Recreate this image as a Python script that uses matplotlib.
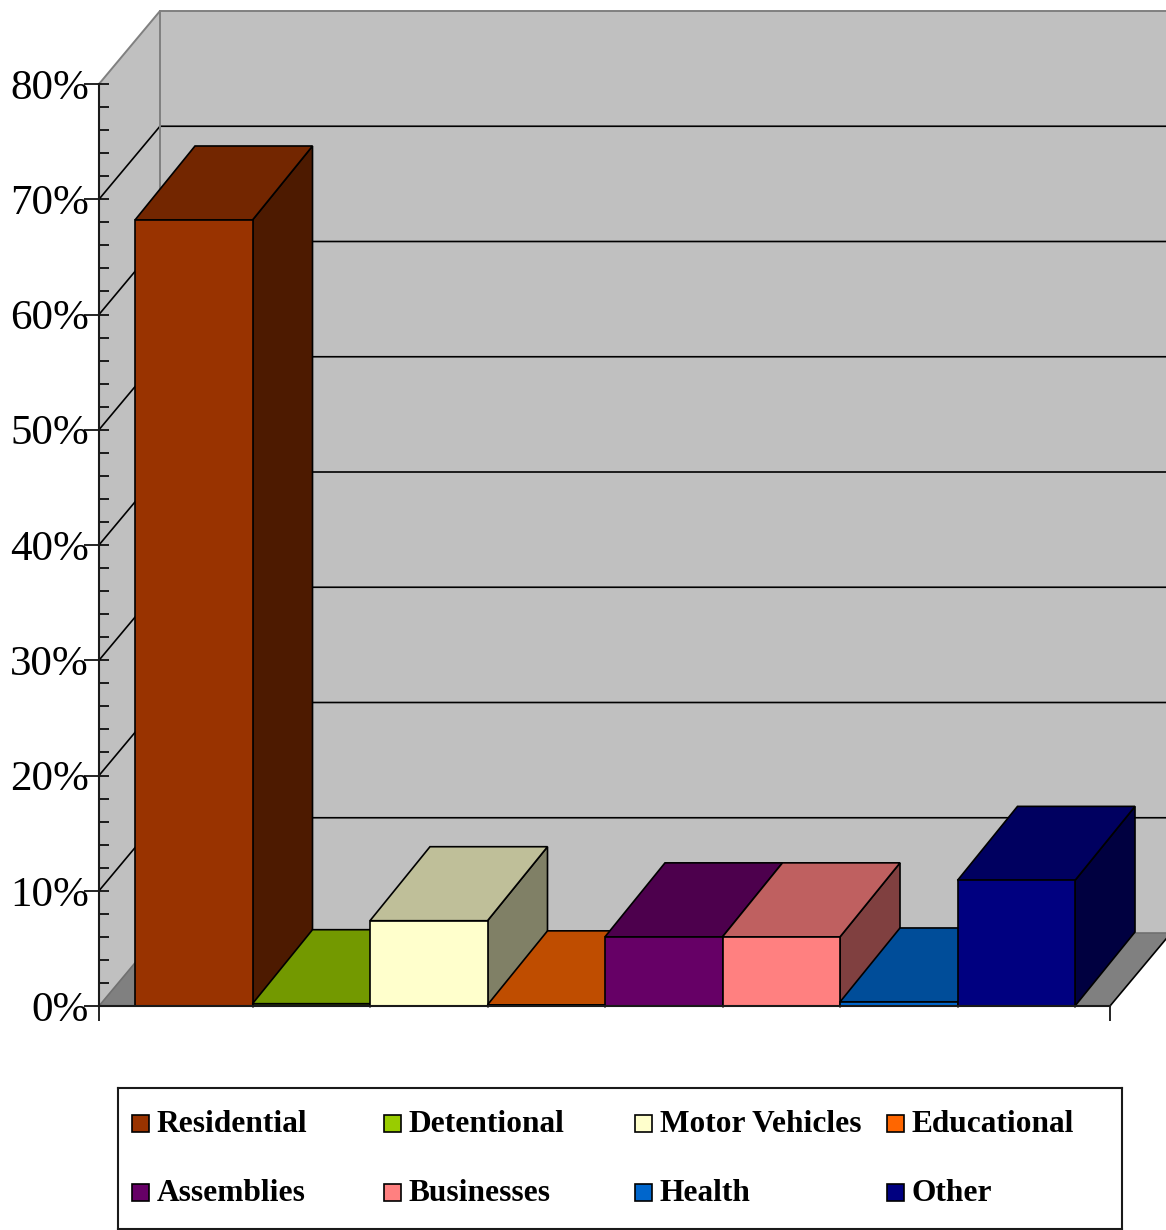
import matplotlib
matplotlib.use('Agg')
import matplotlib.pyplot as plt
from matplotlib.patches import Rectangle
from matplotlib.ticker import MultipleLocator, FixedLocator, NullFormatter, FuncFormatter

categories = ['Residential', 'Detentional', 'Motor Vehicles', 'Educational',
              'Assemblies', 'Businesses', 'Health', 'Other']
values = [68.2, 0.2, 7.4, 0.1, 6.0, 6.0, 0.35, 10.9]
front_colors = ['#993300', '#99CC00', '#FFFFCC', '#FF6600',
                '#660066', '#FF8080', '#0066CC', '#000080']
top_colors = ['#732600', '#739900', '#BFBF99', '#BF4D00',
              '#4D004D', '#BF6060', '#004D99', '#000060']
side_colors = ['#4D1A00', '#4D6600', '#808066', '#803300',
               '#330033', '#804040', '#003366', '#000040']

W, H = 1166, 1230
LW = 1.2

plt.rcParams['font.family'] = ['Liberation Serif', 'DejaVu Serif']
fig = plt.figure(figsize=(W / 100, H / 100), dpi=100, facecolor='white')

# axes box is the front plane of the fake 3d chart
ax = fig.add_axes([99 / W, 1 - 1006 / H, (1110 - 99) / W, (1006 - 84) / H])
ax.patch.set_visible(False)

bar_px = 117.5
px_y = 922 / 80
ax.set_xlim((99 - 135) / bar_px, (1110 - 135) / bar_px)
ax.set_ylim(0, 80)
dx = 61 / bar_px
dy = 73 / px_y
bar_dx = 60 / bar_px
bar_dy = 74 / px_y
x0, x1 = ax.get_xlim()

# walls and floor
ax.fill([x0, x0 + dx, x0 + dx, x0], [0, dy, 80 + dy, 80], fc='#C0C0C0', ec='none', clip_on=False, zorder=1)
ax.fill([x0 + dx, x1 + dx, x1 + dx, x0 + dx], [dy, dy, 80 + dy, 80 + dy], fc='#C0C0C0', ec='none', clip_on=False, zorder=1)
ax.fill([x0, x1, x1 + dx, x0 + dx], [0, 0, dy, dy], fc='#808080', ec='none', clip_on=False, zorder=1)

# gridlines on the walls
for g in range(10, 80, 10):
    ax.plot([x0, x0 + dx, x1 + dx], [g, g + dy, g + dy], color='black', lw=LW, clip_on=False, zorder=1)
ax.plot([x0, x0 + dx, x1 + dx], [80, 80 + dy, 80 + dy], color='#808080', lw=1.4, clip_on=False, zorder=1)
ax.plot([x0, x0 + dx, x1 + dx], [0, dy, dy], color='#707070', lw=LW, clip_on=False, zorder=1)
ax.plot([x0 + dx, x0 + dx], [dy, 80 + dy], color='#808080', lw=1.4, clip_on=False, zorder=1)
ax.plot([x1, x1 + dx], [0, dy], color='black', lw=LW, clip_on=False, zorder=1)

# bars, left to right so each one covers the last
for i, v in enumerate(values):
    ax.fill([i + 1, i + 1 + bar_dx, i + 1 + bar_dx, i + 1], [0, bar_dy, v + bar_dy, v],
            fc=side_colors[i], ec='black', lw=LW, joinstyle='miter', clip_on=False, zorder=1)
    ax.fill([i, i + 1, i + 1 + bar_dx, i + bar_dx], [v, v, v + bar_dy, v + bar_dy],
            fc=top_colors[i], ec='black', lw=LW, joinstyle='miter', clip_on=False, zorder=1)
    ax.bar(i, v, width=1, align='edge', color=front_colors[i], edgecolor='black', lw=LW,
           clip_on=False, zorder=1)

ax.set_xlim(x0, x1)
ax.set_ylim(0, 80)

for s in ['top', 'right']:
    ax.spines[s].set_visible(False)
for s in ['left', 'bottom']:
    ax.spines[s].set_linewidth(1.5)
    ax.spines[s].set_color('#1a1a1a')

# y ticks: long outward major, short inward at every 2%
ax.yaxis.set_major_locator(MultipleLocator(10))
ax.yaxis.set_minor_locator(MultipleLocator(2))
ax.yaxis.remove_overlapping_locs = False
ax.yaxis.set_major_formatter(FuncFormatter(lambda y, p: f'{y:.0f}%'))
ax.yaxis.set_minor_formatter(NullFormatter())
ax.tick_params(axis='y', which='major', direction='out', length=15 * 0.72, width=LW,
               pad=-5 * 0.72, labelsize=31, color='black')
ax.tick_params(axis='y', which='minor', direction='in', length=10 * 0.72, width=LW, color='black')

# x ticks: only the ends are long, bar edges just nick the axis
ax.xaxis.set_major_locator(FixedLocator([x0, x1]))
ax.xaxis.set_minor_locator(FixedLocator(list(range(1, len(values) + 1))))
ax.xaxis.set_major_formatter(NullFormatter())
ax.xaxis.set_minor_formatter(NullFormatter())
ax.tick_params(axis='x', which='major', direction='out', length=15 * 0.72, width=LW)
ax.tick_params(axis='x', which='minor', direction='out', length=1.5 * 0.72, width=LW, color='#777777')

# legend box, laid out by hand in pixels so the columns land right
leg = fig.add_axes([118 / W, 1 - 1229 / H, (1122 - 118) / W, (1229 - 1088) / H])
leg.set_xlim(118, 1122)
leg.set_ylim(1229, 1088)
leg.set_xticks([])
leg.set_yticks([])
for s in leg.spines.values():
    s.set_linewidth(1.5)
    s.set_color('#1a1a1a')

col_x = [132, 384, 635, 887]
row_y = [1123, 1192]
for i, name in enumerate(categories):
    cx = col_x[i % 4]
    cy = row_y[i // 4]
    leg.add_patch(Rectangle((cx, cy - 8.5), 17, 17, fc=front_colors[i], ec='black', lw=LW))
    leg.text(cx + 24.5, cy + 1.5, name, fontsize=22.6, fontweight='bold', va='center', ha='left', color='black')

fig.savefig('out.png', dpi=100)
